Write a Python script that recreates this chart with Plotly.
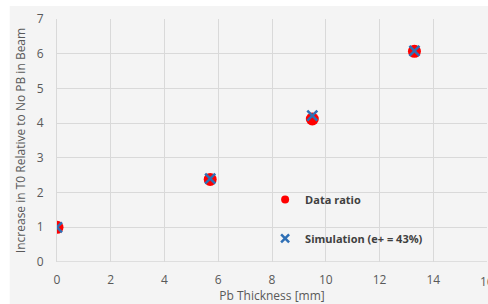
import plotly.graph_objects as go

thickness = [0, 5.7, 9.5, 13.3]
data_ratio = [1.0, 2.38, 4.12, 6.07]
simulation = [1.0, 2.4, 4.22, 6.08]
x_ticks = [0, 2, 4, 6, 8, 10, 12, 14, 16]
y_ticks = [0, 1, 2, 3, 4, 5, 6, 7]

RED = "#ff0000"
BLUE = "#2e6fb5"

fig = go.Figure()
fig.add_trace(go.Scatter(
    x=thickness, y=data_ratio, mode="markers", showlegend=False,
    marker=dict(symbol="circle", size=13, color=RED),
))
fig.add_trace(go.Scatter(
    x=thickness, y=simulation, mode="markers", showlegend=False,
    marker=dict(symbol="x-thin", size=10, color=BLUE,
                line=dict(width=2.5, color=BLUE)),
))
# legend entries (no data drawn)
fig.add_trace(go.Scatter(
    x=[None], y=[None], mode="markers", name="<b>Data ratio</b>",
    legendgroup="a", marker=dict(symbol="circle", size=8, color=RED),
))
fig.add_trace(go.Scatter(
    x=[None], y=[None], mode="markers", name="<b>Simulation (e+ = 43%)</b>",
    legendgroup="b", marker=dict(symbol="x-thin", size=8, color=BLUE,
                                 line=dict(width=2.5, color=BLUE)),
))

fig.add_shape(type="rect", xref="paper", yref="paper",
              x0=-0.11, x1=1.01, y0=-0.2, y1=1.054,
              fillcolor="#f4f4f4", line=dict(width=0), layer="below")

# last tick label, which overflows the right edge as in the reference
fig.add_annotation(x=x_ticks[-1], xref="x", y=0, yref="paper", yanchor="top",
                   yshift=-9, text=str(x_ticks[-1]), showarrow=False,
                   font=dict(size=12, color="#595959"))

fig.update_layout(
    width=488, height=304,
    margin=dict(l=57, r=1, t=19, b=42),
    paper_bgcolor="white",
    plot_bgcolor="#f4f4f4",
    font=dict(family="Open Sans", color="#595959", size=12),
    showlegend=True,
    legend=dict(x=0.484, y=0.317, xanchor="left", yanchor="top",
                bgcolor="rgba(0,0,0,0)", tracegroupgap=20,
                font=dict(size=11, color="#404040")),
    xaxis=dict(range=[0, 16], tickvals=x_ticks, showgrid=True,
               gridcolor="#d9d9d9", gridwidth=1, zeroline=False,
               showline=False, ticks="", ticklen=0, automargin=False,
               ticklabelstandoff=9,
               title=dict(text="Pb Thickness [mm]", font=dict(size=12, color="#595959"))),
    yaxis=dict(range=[0, 7], tickvals=y_ticks, showgrid=True,
               gridcolor="#d9d9d9", gridwidth=1, zeroline=False,
               showline=True, linecolor="#d9d9d9", ticks="", automargin=False,
               ticklabelstandoff=10,
               title=dict(text="Increase in T0 Relative to No PB in Beam",
                          font=dict(size=12, color="#595959"), standoff=8)),
)
fig.add_shape(type="line", xref="x", yref="y", x0=0, x1=16, y0=0, y1=0,
              line=dict(color="#c8c8c8", width=1.2), layer="below")

fig.write_html("out.html", config={"displayModeBar": False},
               post_script="document.body.style.margin='0';document.body.style.padding='0';")
